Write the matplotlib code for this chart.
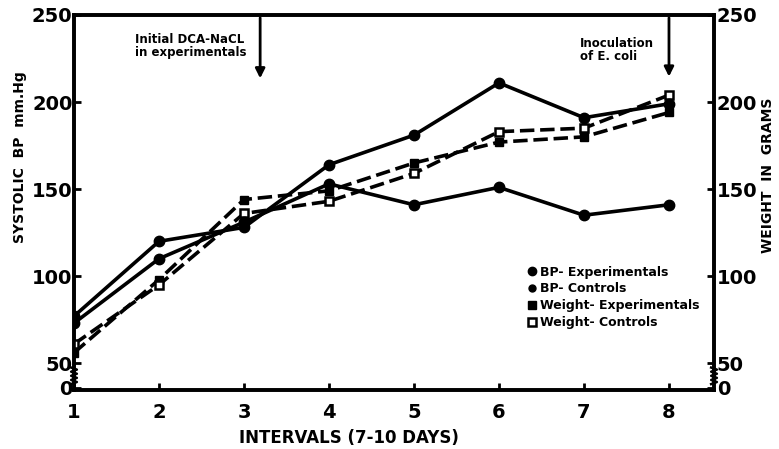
import numpy as np
import matplotlib.pyplot as plt
import matplotlib.transforms as mtransforms
from matplotlib.lines import Line2D

# data
intervals = [1, 2, 3, 4, 5, 6, 7, 8]
bp_exp = [77, 120, 128, 164, 181, 211, 191, 199]
bp_ctrl = [73, 110, 131, 153, 141, 151, 135, 141]
wt_exp = [56, 98, 144, 149, 165, 177, 180, 194]
wt_ctrl = [61, 95, 136, 143, 159, 183, 185, 204]

tick_vals = [0, 50, 100, 150, 200, 250]

# broken axis: 0 sits just below 50
ZERO_POS = 36.0


def squash(v):
    v = np.asarray(v, dtype=float)
    return np.where(v >= 50, v, ZERO_POS + (v / 50.0) * (50 - ZERO_POS))


plt.rcParams['font.family'] = 'DejaVu Sans'
plt.rcParams['font.weight'] = 'bold'

fig = plt.figure(figsize=(7.79, 4.49), dpi=100)
ax = fig.add_axes([0.095, 0.131, 0.8216, 0.8356])
ax2 = ax.twinx()

lw = 2.6
ax.plot(intervals, squash(bp_exp), '-', c='k', lw=lw, marker='o', ms=7.5, zorder=4)
ax.plot(intervals, squash(bp_ctrl), '-', c='k', lw=lw, marker='o', ms=7.5, zorder=4)
ax.plot(intervals, squash(wt_exp), '--', c='k', lw=lw, dashes=(4, 1.6),
        marker='s', ms=6, zorder=3)
ax.plot(intervals, squash(wt_ctrl), '--', c='k', lw=lw, dashes=(4, 1.6),
        marker='s', ms=5.5, mfc='white', mec='k', mew=1.8, zorder=3)

for a in (ax, ax2):
    a.set_xlim(1, 8.53)
    a.set_ylim(34.5, 250)
    for s in a.spines.values():
        s.set_linewidth(2.6)

ax.set_yticks(squash(tick_vals))
ax.set_yticklabels([str(t) for t in tick_vals])
ax2.set_yticks(squash(tick_vals))
ax2.set_yticklabels([str(t) for t in tick_vals])
ax.set_xticks(intervals)

ax.tick_params(axis='both', direction='in', length=5, width=2, labelsize=14)
ax.tick_params(axis='y', pad=1)
ax.tick_params(axis='x', pad=9)
ax2.tick_params(axis='y', direction='in', length=5, width=2, labelsize=14, pad=2)
for lab in ax.get_xticklabels() + ax.get_yticklabels() + ax2.get_yticklabels():
    lab.set_fontweight('heavy')

ax.set_xlabel('INTERVALS (7-10 DAYS)', fontsize=12, fontweight='heavy')
ax.xaxis.set_label_coords(0.43, -0.103)
ax.set_ylabel('SYSTOLIC  BP  mm.Hg', fontsize=10, fontweight='heavy')
ax.yaxis.set_label_coords(-0.073, 0.62)
ax2.set_ylabel('WEIGHT  IN  GRAMS', fontsize=10, fontweight='heavy')
ax2.yaxis.set_label_coords(1.074, 0.573)

# zigzag break marks on both spines
zz_y = np.linspace(38, 47.5, 9)
zz_x = np.array([0, 1] * 5)[:9] * 0.009 - 0.0045
tr = mtransforms.blended_transform_factory(ax.transAxes, ax.transData)
for x0 in (0.0, 1.0):
    ax.plot(x0 + zz_x, zz_y, c='k', lw=1.8, transform=tr, clip_on=False, zorder=6)

# annotations
ax.annotate('', xy=(3.19, 212), xytext=(3.19, 250),
            arrowprops=dict(arrowstyle='-|>', color='k', lw=2, mutation_scale=14))
ax.text(1.72, 232, 'Initial DCA-NaCL\nin experimentals', fontsize=8.5,
        fontweight='bold', va='center', ha='left', linespacing=1.0)
ax.annotate('', xy=(8.0, 213), xytext=(8.0, 250),
            arrowprops=dict(arrowstyle='-|>', color='k', lw=2, mutation_scale=14))
ax.text(6.95, 230, 'Inoculation\nof E. coli', fontsize=8.5,
        fontweight='bold', va='center', ha='left', linespacing=1.0)

handles = [
    Line2D([], [], ls='none', marker='o', c='k', ms=6),
    Line2D([], [], ls='none', marker='o', c='k', ms=5),
    Line2D([], [], ls='none', marker='s', c='k', ms=5.5),
    Line2D([], [], ls='none', marker='s', mfc='white', mec='k', mew=1.8, ms=5.5),
]
labels = ['BP- Experimentals', 'BP- Controls', 'Weight- Experimentals', 'Weight- Controls']
leg = ax.legend(handles, labels, loc='upper left', bbox_to_anchor=(0.7, 0.345),
                frameon=False, handletextpad=0.2, labelspacing=0.3,
                handlelength=0.8, borderaxespad=0,
                prop={'weight': 'heavy', 'size': 9})

fig.savefig('out.png', dpi=100)
